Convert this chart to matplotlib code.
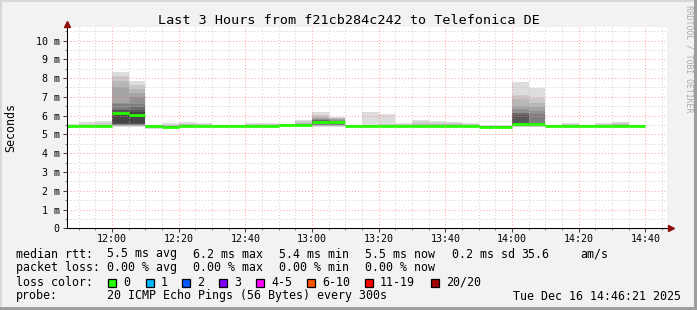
import numpy as np
import matplotlib
matplotlib.use('Agg')
import matplotlib.pyplot as plt
from matplotlib.patches import Rectangle
from matplotlib.lines import Line2D

# SmokePing style latency graph (20 pings every 300s, values in ms)
seg_times = ["11:45", "11:50", "11:55", "12:00", "12:05", "12:10", "12:15",
             "12:20", "12:25", "12:30", "12:35", "12:40", "12:45", "12:50",
             "12:55", "13:00", "13:05", "13:10", "13:15", "13:20", "13:25",
             "13:30", "13:35", "13:40", "13:45", "13:50", "13:55", "14:00",
             "14:05", "14:10", "14:15", "14:20", "14:25", "14:30", "14:35"]

median = [5.45, 5.45, 5.45, 6.13, 6.05, 5.45, 5.42, 5.45, 5.46, 5.46, 5.46,
          5.46, 5.46, 5.52, 5.52, 5.68, 5.64, 5.46, 5.46, 5.46, 5.46, 5.43,
          5.46, 5.46, 5.46, 5.42, 5.42, 5.55, 5.55, 5.47, 5.47, 5.47, 5.47,
          5.47, 5.47]

# sorted ping times per step
pings = [
    [5.41, 5.42, 5.43, 5.43, 5.44, 5.44, 5.44, 5.45, 5.45, 5.45, 5.45, 5.45, 5.46, 5.46, 5.46, 5.47, 5.47, 5.48, 5.50, 5.55],  # 11:45
    [5.41, 5.42, 5.43, 5.43, 5.44, 5.44, 5.44, 5.45, 5.45, 5.45, 5.45, 5.45, 5.46, 5.46, 5.47, 5.47, 5.48, 5.50, 5.55, 5.66],  # 11:50
    [5.41, 5.42, 5.43, 5.43, 5.44, 5.44, 5.44, 5.45, 5.45, 5.45, 5.45, 5.46, 5.46, 5.47, 5.47, 5.48, 5.50, 5.52, 5.60, 5.73],  # 11:55
    [5.40, 5.43, 5.46, 5.48, 5.50, 5.52, 5.54, 5.56, 5.60, 6.10, 6.15, 6.19, 6.30, 6.34, 6.60, 6.65, 7.50, 7.83, 8.10, 8.32],  # 12:00
    [5.40, 5.43, 5.46, 5.48, 5.50, 5.52, 5.54, 5.56, 5.62, 6.00, 6.10, 6.20, 6.30, 6.47, 6.60, 7.00, 7.22, 7.40, 7.63, 7.84],  # 12:05
    [5.30, 5.33, 5.38, 5.42, 5.43, 5.44, 5.44, 5.45, 5.45, 5.45, 5.45, 5.46, 5.46, 5.46, 5.47, 5.47, 5.48, 5.48, 5.49, 5.50],  # 12:10
    [5.36, 5.38, 5.39, 5.40, 5.40, 5.41, 5.41, 5.42, 5.42, 5.42, 5.42, 5.43, 5.43, 5.44, 5.44, 5.45, 5.46, 5.48, 5.52, 5.62],  # 12:15
    [5.40, 5.42, 5.43, 5.43, 5.44, 5.44, 5.44, 5.45, 5.45, 5.45, 5.45, 5.46, 5.46, 5.46, 5.47, 5.48, 5.50, 5.53, 5.58, 5.66],  # 12:20
    [5.42, 5.43, 5.44, 5.44, 5.45, 5.45, 5.45, 5.46, 5.46, 5.46, 5.46, 5.46, 5.47, 5.47, 5.47, 5.48, 5.49, 5.51, 5.54, 5.60],  # 12:25
    [5.43, 5.44, 5.44, 5.45, 5.45, 5.45, 5.46, 5.46, 5.46, 5.46, 5.46, 5.46, 5.47, 5.47, 5.47, 5.48, 5.48, 5.49, 5.49, 5.50],  # 12:30
    [5.43, 5.44, 5.44, 5.45, 5.45, 5.45, 5.45, 5.46, 5.46, 5.46, 5.46, 5.47, 5.47, 5.47, 5.48, 5.48, 5.48, 5.49, 5.50, 5.51],  # 12:35
    [5.42, 5.43, 5.44, 5.44, 5.45, 5.45, 5.45, 5.46, 5.46, 5.46, 5.46, 5.46, 5.47, 5.47, 5.48, 5.48, 5.50, 5.52, 5.55, 5.60],  # 12:40
    [5.42, 5.43, 5.44, 5.45, 5.45, 5.45, 5.46, 5.46, 5.46, 5.46, 5.46, 5.47, 5.47, 5.47, 5.48, 5.49, 5.50, 5.52, 5.56, 5.60],  # 12:45
    [5.47, 5.48, 5.49, 5.50, 5.50, 5.51, 5.51, 5.51, 5.52, 5.52, 5.52, 5.52, 5.53, 5.53, 5.53, 5.54, 5.54, 5.54, 5.55, 5.55],  # 12:50
    [5.46, 5.47, 5.48, 5.49, 5.50, 5.50, 5.51, 5.51, 5.52, 5.52, 5.52, 5.53, 5.53, 5.54, 5.55, 5.56, 5.58, 5.62, 5.70, 5.77],  # 12:55
    [5.41, 5.44, 5.46, 5.48, 5.50, 5.52, 5.56, 5.60, 5.64, 5.66, 5.70, 5.72, 5.74, 5.76, 5.78, 5.80, 5.86, 5.94, 6.05, 6.19],  # 13:00
    [5.42, 5.44, 5.46, 5.48, 5.50, 5.52, 5.55, 5.58, 5.61, 5.63, 5.65, 5.67, 5.69, 5.71, 5.73, 5.76, 5.80, 5.85, 5.90, 5.94],  # 13:05
    [5.43, 5.44, 5.44, 5.45, 5.45, 5.45, 5.46, 5.46, 5.46, 5.46, 5.46, 5.46, 5.47, 5.47, 5.47, 5.48, 5.48, 5.49, 5.49, 5.51],  # 13:10
    [5.42, 5.43, 5.44, 5.44, 5.45, 5.45, 5.45, 5.46, 5.46, 5.46, 5.46, 5.46, 5.47, 5.47, 5.48, 5.48, 5.49, 5.50, 5.52, 6.19],  # 13:15
    [5.42, 5.43, 5.44, 5.44, 5.45, 5.45, 5.45, 5.46, 5.46, 5.46, 5.46, 5.46, 5.47, 5.47, 5.48, 5.48, 5.49, 5.50, 5.53, 6.08],  # 13:20
    [5.42, 5.43, 5.44, 5.44, 5.45, 5.45, 5.45, 5.46, 5.46, 5.46, 5.46, 5.46, 5.47, 5.47, 5.48, 5.49, 5.50, 5.52, 5.56, 5.62],  # 13:25
    [5.38, 5.40, 5.41, 5.41, 5.42, 5.42, 5.42, 5.43, 5.43, 5.43, 5.43, 5.44, 5.44, 5.45, 5.46, 5.48, 5.52, 5.58, 5.66, 5.77],  # 13:30
    [5.42, 5.43, 5.44, 5.44, 5.45, 5.45, 5.45, 5.46, 5.46, 5.46, 5.46, 5.46, 5.47, 5.47, 5.48, 5.49, 5.51, 5.55, 5.62, 5.71],  # 13:35
    [5.42, 5.43, 5.44, 5.44, 5.45, 5.45, 5.45, 5.46, 5.46, 5.46, 5.46, 5.46, 5.47, 5.47, 5.48, 5.49, 5.50, 5.53, 5.59, 5.66],  # 13:40
    [5.42, 5.43, 5.44, 5.44, 5.45, 5.45, 5.45, 5.46, 5.46, 5.46, 5.46, 5.46, 5.47, 5.47, 5.48, 5.48, 5.50, 5.52, 5.56, 5.60],  # 13:45
    [5.38, 5.39, 5.40, 5.40, 5.41, 5.41, 5.41, 5.42, 5.42, 5.42, 5.42, 5.42, 5.43, 5.43, 5.43, 5.44, 5.44, 5.45, 5.46, 5.48],  # 13:50
    [5.38, 5.39, 5.40, 5.40, 5.41, 5.41, 5.41, 5.42, 5.42, 5.42, 5.42, 5.42, 5.43, 5.43, 5.44, 5.44, 5.45, 5.45, 5.46, 5.48],  # 13:55
    [5.38, 5.42, 5.45, 5.47, 5.48, 5.50, 5.51, 5.52, 5.53, 5.54, 5.56, 5.58, 6.05, 6.12, 6.16, 6.34, 6.51, 6.87, 7.12, 7.79],  # 14:00
    [5.38, 5.42, 5.45, 5.47, 5.48, 5.49, 5.50, 5.50, 5.51, 5.52, 5.53, 5.56, 5.60, 5.62, 6.08, 6.26, 6.44, 6.65, 6.95, 7.49],  # 14:05
    [5.43, 5.44, 5.44, 5.45, 5.45, 5.45, 5.46, 5.46, 5.46, 5.46, 5.46, 5.47, 5.47, 5.47, 5.48, 5.48, 5.49, 5.49, 5.50, 5.51],  # 14:10
    [5.42, 5.43, 5.44, 5.44, 5.45, 5.45, 5.45, 5.46, 5.46, 5.46, 5.46, 5.46, 5.47, 5.47, 5.48, 5.49, 5.50, 5.52, 5.56, 5.62],  # 14:15
    [5.43, 5.44, 5.44, 5.45, 5.45, 5.45, 5.46, 5.46, 5.46, 5.46, 5.46, 5.47, 5.47, 5.47, 5.48, 5.48, 5.49, 5.49, 5.50, 5.51],  # 14:20
    [5.40, 5.42, 5.43, 5.44, 5.45, 5.45, 5.45, 5.46, 5.46, 5.46, 5.46, 5.46, 5.47, 5.47, 5.48, 5.49, 5.50, 5.52, 5.56, 5.62],  # 14:25
    [5.42, 5.43, 5.44, 5.44, 5.45, 5.45, 5.45, 5.46, 5.46, 5.46, 5.46, 5.46, 5.47, 5.48, 5.49, 5.50, 5.52, 5.56, 5.62, 5.68],  # 14:30
    [5.43, 5.44, 5.44, 5.45, 5.45, 5.45, 5.46, 5.46, 5.46, 5.46, 5.46, 5.47, 5.47, 5.47, 5.48, 5.48, 5.49, 5.50, 5.51, 5.52],  # 14:35
]

x_tick_labels = ["12:00", "12:20", "12:40", "13:00", "13:20", "13:40",
                 "14:00", "14:20", "14:40"]
y_tick_labels = ["0", "1 m", "2 m", "3 m", "4 m", "5 m", "6 m", "7 m", "8 m",
                 "9 m", "10 m"]

title = "Last 3 Hours from f21cb284c242 to Telefonica DE"
loss_labels = ["0", "1", "2", "3", "4-5", "6-10", "11-19", "20/20"]
loss_colors = ["#26ff00", "#00b8ff", "#0059ff", "#7e00ff", "#ff00ff",
               "#ff5500", "#ff0000", "#a10000"]


def to_min(s):
    # minutes relative to 12:00
    h, m = s.split(':')
    return (int(h) - 12) * 60 + int(m)


plt.rcParams['font.family'] = 'DejaVu Sans Mono'

W, H = 697, 310
fig = plt.figure(figsize=(W / 100, H / 100), dpi=100, facecolor='#f2f2f2')
ax = fig.add_axes([67 / W, (H - 228.3) / H, 600 / W, 201.3 / H])
ax.set_facecolor('white')

x0 = np.array([to_min(t) for t in seg_times])
p = np.array(pings)

# smoke: outer pairs light, inner pairs dark
for i in range(10):
    g = int(190 / 10 * (10 - (i + 1))) + 50
    col = '#%02x%02x%02x' % (g, g, g)
    lo = p[:, i]
    hi = p[:, 19 - i]
    ax.bar(x0, hi - lo, bottom=lo, width=5, align='edge', color=col,
           linewidth=0, antialiased=False, zorder=1)

# median, no vertical connectors
ax.hlines(median, x0, x0 + 5, colors='#26ff00', linewidth=2.0, zorder=3,
          capstyle='butt')

ax.set_xlim(-13.5, 166.5)
ax.set_ylim(0, 10.72)

ax.set_xticks(np.arange(0, 161, 20))
ax.set_xticklabels(x_tick_labels)
ax.set_xticks(np.arange(-10, 166, 5), minor=True)
ax.set_yticks(np.arange(0, 11, 1))
ax.set_yticklabels(y_tick_labels)
ax.set_yticks(np.arange(0.5, 10.6, 0.5), minor=True)

ax.set_axisbelow(False)
ax.grid(which='minor', color='#c0c0c0', linestyle=(0, (1, 2)),
        linewidth=0.75, alpha=0.7)
ax.grid(which='major', color='#ff8080', linestyle=(0, (1, 2)),
        linewidth=0.75, alpha=0.7)

ax.tick_params(which='major', length=3, width=0.75, color='#404040',
               labelsize=7.2, labelcolor='black')
ax.tick_params(which='minor', length=1.5, width=0.75, color='#808080')
ax.tick_params(axis='x', which='major', pad=1.2)
ax.tick_params(axis='y', which='major', pad=2.2)

for s in ['top', 'right']:
    ax.spines[s].set_visible(False)
for s in ['left', 'bottom']:
    ax.spines[s].set_color('black')
    ax.spines[s].set_linewidth(0.75)
    ax.spines[s].set_zorder(4)

# axis arrows
fig.add_artist(Line2D([67 / W], [1 - 23.8 / H], marker='^', markersize=4.2,
                      color='#8b1010', transform=fig.transFigure))
fig.add_artist(Line2D([670.5 / W], [1 - 228.3 / H], marker='>', markersize=4.2,
                      color='#8b1010', transform=fig.transFigure))

fig.text(348.5 / W, 1 - 24 / H, title, ha='center', va='baseline',
         fontsize=9.7)
fig.text(11 / W, 1 - 127 / H, 'Seconds', rotation=90, ha='center',
         va='center', fontsize=8.4)
fig.text(688.5 / W, 1 - 59 / H, 'RRDTOOL / TOBI OETIKER', rotation=270,
         ha='center', va='center', fontsize=5.9, color='#aaaaaa')


# legend rows
def put(x, y, s):
    fig.text(x / W, 1 - y / H, s, ha='left', va='baseline', fontsize=8.4)


r1, r2, r3, r4 = 257.5, 271.3, 285.5, 299.5
put(16, r1, 'median rtt:')
put(107.3, r1, '5.5 ms avg')
put(193.3, r1, '6.2 ms max')
put(279.3, r1, '5.4 ms min')
put(365, r1, '5.5 ms now')
put(451.7, r1, '0.2 ms sd')
put(521, r1, '35.6')
put(580, r1, 'am/s')

put(16, r2, 'packet loss:')
put(107.3, r2, '0.00 % avg')
put(193.3, r2, '0.00 % max')
put(279.3, r2, '0.00 % min')
put(365, r2, '0.00 % now')

put(16, r3, 'loss color:')
box_x = [108.3, 145.7, 182.3, 219, 256, 307.3, 365, 430.7]
for bx, lab, c in zip(box_x, loss_labels, loss_colors):
    fig.add_artist(Rectangle((bx / W, 1 - 286.7 / H), 8 / W, 8 / H,
                             facecolor=c, edgecolor='black', linewidth=0.9,
                             transform=fig.transFigure))
    put(bx + 15, r3, lab)

put(16, r4, 'probe:')
put(107.3, r4, '20 ICMP Echo Pings (56 Bytes) every 300s')
put(513.3, r4, 'Tue Dec 16 14:46:21 2025')

# frame
fig.add_artist(Rectangle((0, 0), 2 / W, 1, facecolor='#d8d8d8', linewidth=0,
                         transform=fig.transFigure))
fig.add_artist(Rectangle((0, 1 - 2 / H), 1, 2 / H, facecolor='#d8d8d8',
                         linewidth=0, transform=fig.transFigure))
fig.add_artist(Rectangle((1 - 3 / W, 0), 3 / W, 1, facecolor='#9e9e9e',
                         linewidth=0, transform=fig.transFigure))
fig.add_artist(Rectangle((0, 0), 1, 3.5 / H, facecolor='#9e9e9e',
                         linewidth=0, transform=fig.transFigure))

fig.savefig('out.png', dpi=100, facecolor=fig.get_facecolor())
